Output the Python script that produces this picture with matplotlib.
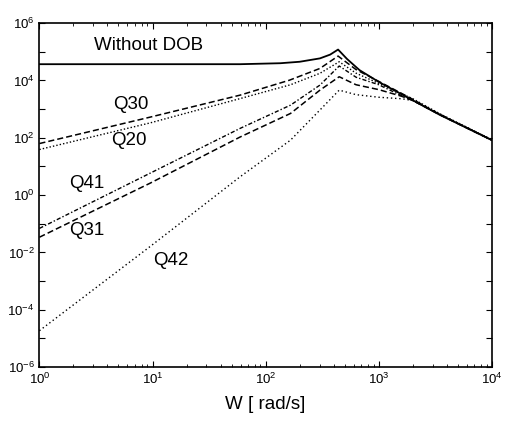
import matplotlib
matplotlib.use('Agg')
import matplotlib.pyplot as plt
from matplotlib.ticker import LogLocator, NullFormatter

plt.rcParams['font.family'] = ['Liberation Sans', 'DejaVu Sans']
plt.rcParams['mathtext.fontset'] = 'custom'
plt.rcParams['mathtext.rm'] = 'Liberation Sans'
plt.rcParams['axes.unicode_minus'] = False

# frequency [rad/s] / magnitude
w_main = [1, 59.6, 135, 200, 302, 372, 437, 525, 676, 1000, 3470, 10000]
mag_main = [3.7e4, 3.7e4, 4.0e4, 4.5e4, 5.9e4, 8.0e4, 1.2e5, 5.6e4, 2.3e4, 8.9e3, 630, 83]

w_q30 = [1, 9.5, 59.6, 162, 302, 437, 630, 1000, 2000, 3470, 10000]
mag_q30 = [63, 525, 3.09e3, 1.02e4, 2.63e4, 7.1e4, 2.4e4, 9.3e3, 2.2e3, 640, 83]

w_q20 = [1, 9.5, 59.6, 166, 302, 447, 630, 1000, 2000, 3470, 10000]
mag_q20 = [39, 330, 2.34e3, 7.1e3, 1.78e4, 4.5e4, 1.8e4, 7.9e3, 2.3e3, 690, 85]

w_q41 = [1, 9.5, 59.6, 166, 302, 447, 630, 1000, 1600, 2000, 3470, 10000]
mag_q41 = [0.069, 5.8, 214, 1.38e3, 6.9e3, 3.2e4, 1.3e4, 7.1e3, 2.9e3, 2.0e3, 650, 83]

w_q31 = [1, 9.5, 59.6, 166, 302, 447, 630, 1000, 1600, 2000, 3470, 10000]
mag_q31 = [0.034, 2.6, 107, 708, 4.6e3, 1.35e4, 7.1e3, 4.8e3, 2.8e3, 2.0e3, 640, 83]

w_q42 = [1, 9.5, 59.6, 166, 302, 447, 630, 1000, 1600, 2000, 3470, 10000]
mag_q42 = [1.86e-5, 0.016, 4.4, 83, 933, 4.6e3, 3.2e3, 2.6e3, 2.3e3, 2.0e3, 670, 85]

# label text, position
labels = ['Without DOB', 'Q30', 'Q20', 'Q41', 'Q31', 'Q42']
label_x = [9.2, 6.4, 6.2, 2.6, 2.6, 14.5]
label_y = [1.7e5, 1.4e3, 83, 2.6, 0.06, 5.4e-3]

fig = plt.figure(figsize=(5.05, 4.21), dpi=100)
ax = fig.add_axes([0.078, 0.128, 0.896, 0.817])

ax.loglog(w_main, mag_main, color='black', lw=1.3)
ax.loglog(w_q30, mag_q30, color='black', lw=1.1, dashes=(4, 2))
ax.loglog(w_q20, mag_q20, color='black', lw=1.0, dashes=(1, 1.5))
ax.loglog(w_q41, mag_q41, color='black', lw=1.0, dashes=(3, 1.5, 1, 1.5))
ax.loglog(w_q31, mag_q31, color='black', lw=1.1, dashes=(4, 2))
ax.loglog(w_q42, mag_q42, color='black', lw=1.0, dashes=(1, 2))

for t, x, y in zip(labels, label_x, label_y):
    ax.text(x, y, t, fontsize=13.5, ha='center', va='center')

ax.set_xlim(1, 1e4)
ax.set_ylim(1e-6, 1e6)
ax.set_xlabel('W [ rad/s]', fontsize=13.5, labelpad=6)

ax.set_yticks([10.0**k for k in range(-6, 7)])
ax.set_yticklabels(['$10^{%d}$' % k if k % 2 == 0 else '' for k in range(-6, 7)])
ax.yaxis.set_minor_locator(LogLocator(base=10, subs=[], numticks=20))
ax.xaxis.set_minor_locator(LogLocator(base=10, subs=range(2, 10), numticks=20))
ax.xaxis.set_minor_formatter(NullFormatter())

ax.tick_params(which='both', direction='in', top=True, right=True, labelsize=9.5)
ax.tick_params(which='major', length=4)
ax.tick_params(which='minor', length=2)
for s in ax.spines.values():
    s.set_linewidth(1.2)

fig.savefig('out.png', dpi=100)
